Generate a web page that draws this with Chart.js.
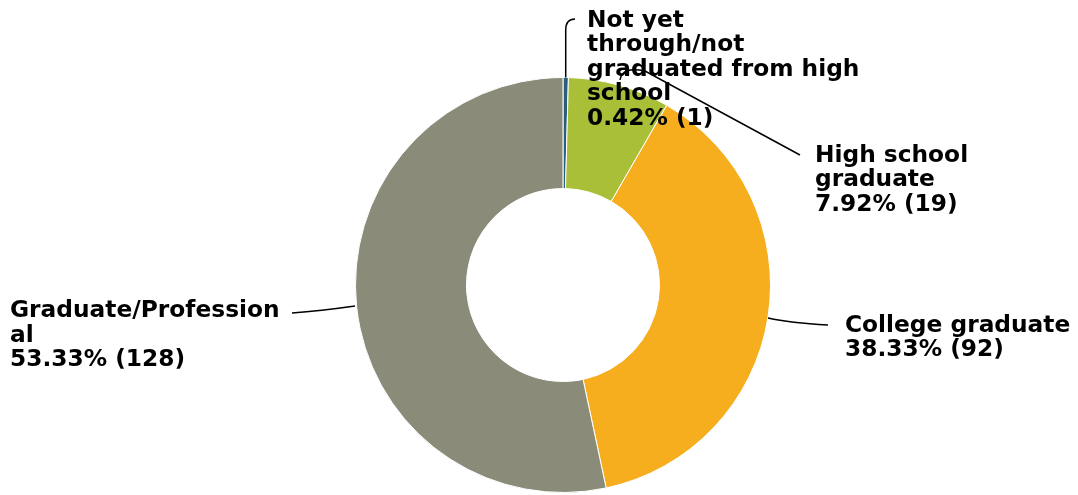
<!DOCTYPE html>
<html>
<head>
<meta charset="utf-8">
<script src="https://cdn.jsdelivr.net/npm/chart.js@4"></script>
<style>
  body { margin: 0; background: #fff; }
  #wrap { width: 1078px; height: 495px; }
</style>
</head>
<body>
<div id="wrap"><canvas id="donut"></canvas></div>
<script>
const categories = [
  "Not yet through/not graduated from high school",
  "High school graduate",
  "College graduate",
  "Graduate/Professional"
];
const counts = [1, 19, 92, 128];
const percents = ["0.42%", "7.92%", "38.33%", "53.33%"];
const colors = ["#2b5d7c", "#a9bf38", "#f6ae1f", "#8a8b79"];

// label text lines (wrapped as in the original) and baseline of first line
const labelLines = [
  ["Not yet", "through/not", "graduated from high", "school", percents[0] + " (" + counts[0] + ")"],
  ["High school", "graduate", percents[1] + " (" + counts[1] + ")"],
  ["College graduate", percents[2] + " (" + counts[2] + ")"],
  ["Graduate/Profession", "al", percents[3] + " (" + counts[3] + ")"]
];
const labelPos = [[587, 26.5], [815, 161.5], [845, 331.5], [10, 317]];

const labelPlugin = {
  id: "labels",
  afterDraw(chart) {
    const ctx = chart.ctx;
    const arcs = chart.getDatasetMeta(0).data;
    ctx.save();
    ctx.strokeStyle = "#000";
    ctx.lineWidth = 1.5;
    const cx = arcs[0].x, cy = arcs[0].y, R = arcs[0].outerRadius;
    function onArc(i, r) {
      const a = (arcs[i].startAngle + arcs[i].endAngle) / 2;
      return [cx + Math.cos(a) * r, cy + Math.sin(a) * r];
    }
    // leader lines
    let p = onArc(0, R);
    ctx.beginPath();
    ctx.moveTo(p[0], p[1]);
    ctx.lineTo(p[0], 30);
    ctx.quadraticCurveTo(p[0], 19, 575, 19);
    ctx.stroke();

    ctx.beginPath();
    ctx.moveTo(620, 80);
    ctx.quadraticCurveTo(622, 66, 645, 71);
    ctx.lineTo(800, 155);
    ctx.stroke();

    ctx.beginPath();
    ctx.moveTo(768, 318);
    ctx.quadraticCurveTo(790, 323, 828, 325);
    ctx.stroke();

    ctx.beginPath();
    ctx.moveTo(355, 306);
    ctx.quadraticCurveTo(320, 311, 292, 313);
    ctx.stroke();

    ctx.fillStyle = "#000";
    ctx.font = "bold 23.3px 'DejaVu Sans'";
    ctx.textBaseline = "alphabetic";
    ctx.textAlign = "left";
    labelLines.forEach((lines, i) => {
      lines.forEach((t, j) => {
        ctx.fillText(t, labelPos[i][0], labelPos[i][1] + j * 24.5);
      });
    });
    ctx.restore();
  }
};

new Chart(document.getElementById("donut"), {
  type: "doughnut",
  data: {
    labels: categories,
    datasets: [{
      data: counts,
      backgroundColor: colors,
      borderColor: "#ffffff",
      borderWidth: 1
    }]
  },
  options: {
    responsive: true,
    maintainAspectRatio: false,
    animation: false,
    cutout: "46.5%",
    layout: { padding: { top: 77, bottom: 2, left: 355, right: 307 } },
    plugins: {
      legend: { display: false },
      tooltip: { enabled: false }
    }
  },
  plugins: [labelPlugin]
});
</script>
</body>
</html>
